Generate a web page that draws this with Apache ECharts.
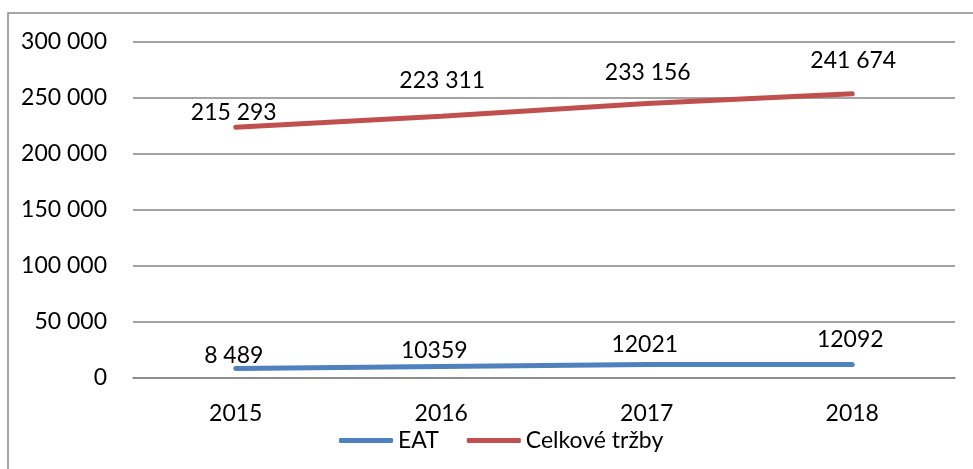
<!DOCTYPE html>
<html>
<head>
<meta charset="utf-8">
<style>
  html, body { margin: 0; padding: 0; background: #fff; }
  #chart { width: 973px; height: 469px; }
</style>
<script src="https://cdn.jsdelivr.net/npm/echarts@6/dist/echarts.min.js"></script>
</head>
<body>
<div id="chart"></div>
<script>
// Years on the category axis
const years = ['2015', '2016', '2017', '2018'];
// Profit after tax (EAT) and total revenue, stacked on top of each other
const eat = [8489, 10359, 12021, 12092];
const trzby = [215293, 223311, 233156, 241674];
// Data label texts as they are printed on the chart
const eatLabels = ['8 489', '10359', '12021', '12092'];
const trzbyLabels = ['215 293', '223 311', '233 156', '241 674'];
// Value-axis range
const yMin = 0, yMax = 300000, yStep = 50000;

// Hand-placed label nudges [dx, dy] in pixels, relative to each point
const eatLabelShift = [[-2, -12], [-7, -15], [-2, -19], [-2, -24]];
const trzbyLabelShift = [[-2, -14], [1, -35], [1, -30], [1, -33]];

const FONT = 'Lato, "Open Sans", sans-serif';
const FONT_SIZE = 23;
const blue = '#4F81BD';
const red = '#C0504D';

function spaced(v) {
  return String(v).replace(/\B(?=(\d{3})+(?!\d))/g, ' ');
}

function points(values, texts, shifts) {
  return values.map((v, i) => ({
    value: v,
    label: { formatter: texts[i], offset: shifts[i] }
  }));
}

const labelStyle = {
  show: true,
  position: 'top',
  distance: 0,
  verticalAlign: 'middle',
  color: '#000',
  fontFamily: FONT,
  fontSize: FONT_SIZE
};

const chart = echarts.init(document.getElementById('chart'), null, { renderer: 'canvas' });
chart.setOption({
  animation: false,
  backgroundColor: '#fff',
  graphic: [{
    type: 'rect',
    shape: { x: 8, y: 13, width: 1100, height: 600 },
    style: { fill: 'none', stroke: '#8a8a8a', lineWidth: 1.5 },
    silent: true
  }],
  grid: { left: 133, right: 18, top: 42, bottom: 91 },
  legend: {
    left: 334,
    top: 424,
    itemWidth: 54,
    itemHeight: 5,
    itemGap: 28,
    icon: 'roundRect',
    textStyle: { fontFamily: FONT, fontSize: FONT_SIZE, color: '#000', padding: [0, 0, 0, 0] },
    data: ['EAT', 'Celkové tržby']
  },
  xAxis: {
    type: 'category',
    data: years,
    boundaryGap: true,
    axisLine: { show: true, lineStyle: { color: '#868686', width: 1.5 } },
    axisTick: { show: false },
    axisLabel: { margin: 24, color: '#000', fontFamily: FONT, fontSize: FONT_SIZE }
  },
  yAxis: {
    type: 'value',
    min: yMin,
    max: yMax,
    interval: yStep,
    axisLine: { show: false },
    axisTick: { show: false },
    splitLine: { lineStyle: { color: '#868686', width: 1.5 } },
    axisLabel: {
      margin: 26,
      color: '#000',
      fontFamily: FONT,
      fontSize: FONT_SIZE,
      formatter: spaced
    }
  },
  series: [
    {
      name: 'EAT',
      type: 'line',
      stack: 'total',
      data: points(eat, eatLabels, eatLabelShift),
      symbol: 'circle',
      symbolSize: 1,
      color: blue,
      lineStyle: { width: 5, color: blue, cap: 'round' },
      label: labelStyle,
      z: 3
    },
    {
      name: 'Celkové tržby',
      type: 'line',
      stack: 'total',
      data: points(trzby, trzbyLabels, trzbyLabelShift),
      symbol: 'circle',
      symbolSize: 1,
      color: red,
      lineStyle: { width: 5, color: red, cap: 'round' },
      label: labelStyle,
      z: 3
    }
  ]
});
</script>
</body>
</html>
